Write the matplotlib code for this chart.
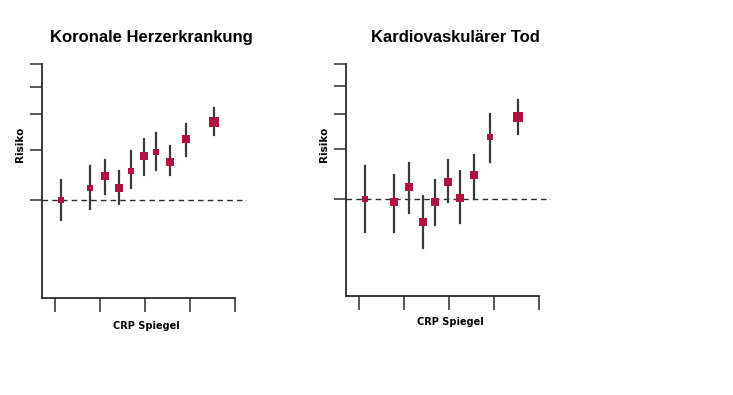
import numpy as np
import matplotlib
matplotlib.use("Agg")
import matplotlib.pyplot as plt
from matplotlib.ticker import NullFormatter, FixedLocator

# CRP-Stufen (gemeinsame x-Positionen)
crp = [0.13, 0.77, 1.12, 1.42, 1.69, 1.98, 2.24, 2.55, 2.91, 3.54]

# Koronale Herzerkrankung
khk_risk = [1.00, 1.10, 1.21, 1.10, 1.26, 1.42, 1.47, 1.36, 1.64, 1.88]
khk_low = [0.85, 0.93, 1.05, 0.97, 1.10, 1.22, 1.27, 1.22, 1.43, 1.69]
khk_high = [1.17, 1.31, 1.38, 1.26, 1.48, 1.64, 1.72, 1.54, 1.85, 2.10]
khk_weight = [5, 5, 7, 7, 6, 7, 5, 7, 7, 9]

# Kardiovaskulärer Tod
cvd_risk = [1.00, 0.97, 1.10, 0.83, 0.97, 1.15, 1.01, 1.21, 1.65, 1.95]
cvd_low = [0.76, 0.76, 0.89, 0.67, 0.81, 0.97, 0.82, 1.00, 1.35, 1.70]
cvd_high = [1.31, 1.21, 1.34, 1.02, 1.17, 1.37, 1.25, 1.43, 2.00, 2.23]
cvd_weight = [5, 7, 7, 7, 7, 8, 7, 8, 5, 9]

x_ticks = [0, 1, 2, 3, 4]
y_ticks = [1, 1.5, 2, 2.5, 3]

DARK = "#2b2b2b"
RED = "#b0123f"
TITLE_FONT = ["Liberation Sans Narrow", "Liberation Sans", "DejaVu Sans"]

fig = plt.figure(figsize=(7.33, 3.95), dpi=100)


def panel(rect, title, risk, low, high, weight, xlab_y):
    ax = fig.add_axes(rect)
    ax.set_yscale("log")
    ax.set_xlim(-0.29, 4.27)
    ax.set_ylim(0.452, 3.0)

    ax.axhline(1, color=DARK, lw=1.0, ls=(0, (4, 3)), zorder=1)

    for xi, r, lo, hi, w in zip(crp, risk, low, high, weight):
        ax.plot([xi, xi], [lo, hi], color="#3a3a3a", lw=1.6, zorder=2)
        ax.plot(xi, r, marker="s", color=RED, ms=w * 0.8, mew=0, zorder=3)

    for s in ["top", "right"]:
        ax.spines[s].set_visible(False)
    for s in ["left", "bottom"]:
        ax.spines[s].set_color(DARK)
        ax.spines[s].set_linewidth(1.3)
    ax.spines["bottom"].set_bounds(-0.29, 4)

    ax.yaxis.set_major_locator(FixedLocator(y_ticks))
    ax.yaxis.set_minor_locator(FixedLocator([]))
    ax.yaxis.set_major_formatter(NullFormatter())
    ax.yaxis.set_minor_formatter(NullFormatter())
    ax.set_xticks(x_ticks)
    ax.set_xticklabels([])
    ax.tick_params(axis="y", length=9, width=1.1, color=DARK)
    ax.tick_params(axis="x", length=10, width=1.1, color=DARK)

    ax.set_title(title, fontsize=12, fontweight="bold", family=TITLE_FONT,
                 pad=16, x=0.535)
    ax.set_ylabel("Risiko", fontsize=7.5, fontweight="bold")
    ax.yaxis.set_label_coords(-0.085, 0.655)
    ax.set_xlabel("CRP Spiegel", fontsize=7, fontweight="bold")
    ax.xaxis.set_label_coords(0.51, xlab_y)
    return ax


panel([0.0573, 0.2456, 0.2797, 0.5924], "Koronale Herzerkrankung",
      khk_risk, khk_low, khk_high, khk_weight, -0.098)
panel([0.472, 0.2506, 0.2797, 0.587], "Kardiovaskulärer Tod",
      cvd_risk, cvd_low, cvd_high, cvd_weight, -0.09)

fig.savefig("out.png", dpi=100)
